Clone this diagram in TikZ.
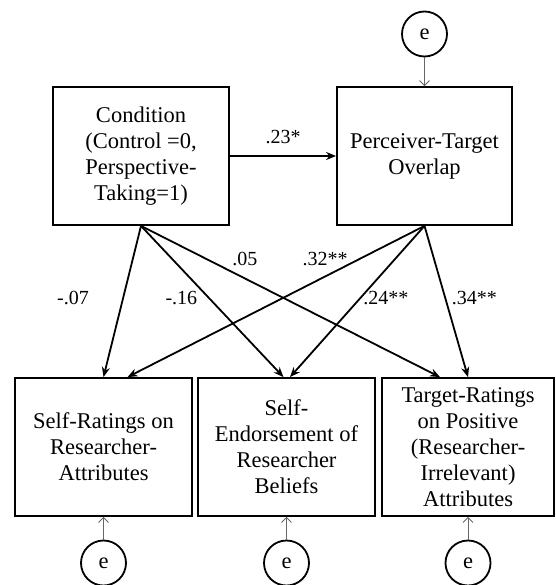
\documentclass[tikz,border=0pt]{standalone}
\usepackage{fontspec}
\setmainfont{Liberation Serif}
\usetikzlibrary{arrows.meta, positioning}

\begin{document}
\begin{tikzpicture}[auto, >=Stealth, x=1pt, y=1pt]
        % Styles for the boxes, error terms and paths
        \tikzstyle{block} = [draw, rectangle, line width=1.8pt, minimum height=138pt, inner sep=0pt, align=center, font=\fontsize{22.5}{26}\selectfont]
        \tikzstyle{err} = [draw, circle, line width=1.8pt, minimum size=45pt, inner sep=0pt, font=\fontsize{22.5}{26}\selectfont]
        \tikzstyle{effect} = [line width=1.8pt, -{Stealth[length=10pt, width=8pt]}] % Path arrows
        \tikzstyle{noise} = [draw=black!60, line width=0.8pt, -{Straight Barb[length=5pt, width=10pt]}] % Error arrows
        \tikzstyle{coef} = [font=\fontsize{20}{24}\selectfont, inner sep=0pt, anchor=center] % Path coefficients
        \useasboundingbox (0,0) rectangle (555,-585);
       % Nodes
       \node [block, minimum width=176pt] at (141,-156) (condition) {Condition\\(Control =0,\\Perspective-\\Taking=1)}; % Predictor
       \node [block, minimum width=175pt, on grid, right=283.5pt of condition] (overlap) {Perceiver-Target\\Overlap}; % Mediator
       \node [block, minimum width=177pt, on grid, below=291pt of condition, xshift=-37.5pt] (selfrate) {Self-Ratings on\\Researcher-\\Attributes}; % First outcome
       \node [block, minimum width=177pt, on grid, right=183pt of selfrate] (endorse) {Self-\\Endorsement of\\Researcher\\Beliefs}; % Second outcome
       \node [block, minimum width=172pt, on grid, right=181.5pt of endorse] (targetrate) {Target-Ratings\\on Positive\\(Researcher-\\Irrelevant)\\Attributes}; % Third outcome
       \node [err, on grid, above=122pt of overlap] (eOverlap) {e}; % Error of mediator
       \node [err, on grid, below=116pt of selfrate] (eSelf) {e};
       \node [err, on grid, below=116pt of endorse] (eEndorse) {e};
       \node [err, on grid, below=116pt of targetrate] (eTarget) {e};
       % Connections
       \draw[effect] (condition) -- node[coef, above=11pt] {.23*} (overlap); % Condition to overlap
       \draw[effect] (condition.south) -- node[coef, pos=0.48, xshift=-50pt] {-.07} (selfrate.north);
       \draw[effect] (condition.south) -- node[coef, pos=0.48, xshift=-28pt] {-.16} ([xshift=-3pt]endorse.north);
       \draw[effect] (condition.south) -- node[coef, pos=0.22, xshift=38pt] {.05} ([xshift=-28pt]targetrate.north);
       \draw[effect] (overlap.south) -- node[coef, pos=0.22, xshift=-34pt] {.32**} ([xshift=24pt]selfrate.north);
       \draw[effect] (overlap.south) -- node[coef, pos=0.48, xshift=26pt] {.24**} ([xshift=3.5pt]endorse.north);
       \draw[effect] (overlap.south) -- node[coef, pos=0.48, xshift=29pt] {.34**} (targetrate.north);
       \draw[noise] (eOverlap) -- (overlap); % Error terms
       \draw[noise] (eSelf) -- (selfrate);
       \draw[noise] (eEndorse) -- (endorse);
       \draw[noise] (eTarget) -- (targetrate);

      \end{tikzpicture}
\end{document}
